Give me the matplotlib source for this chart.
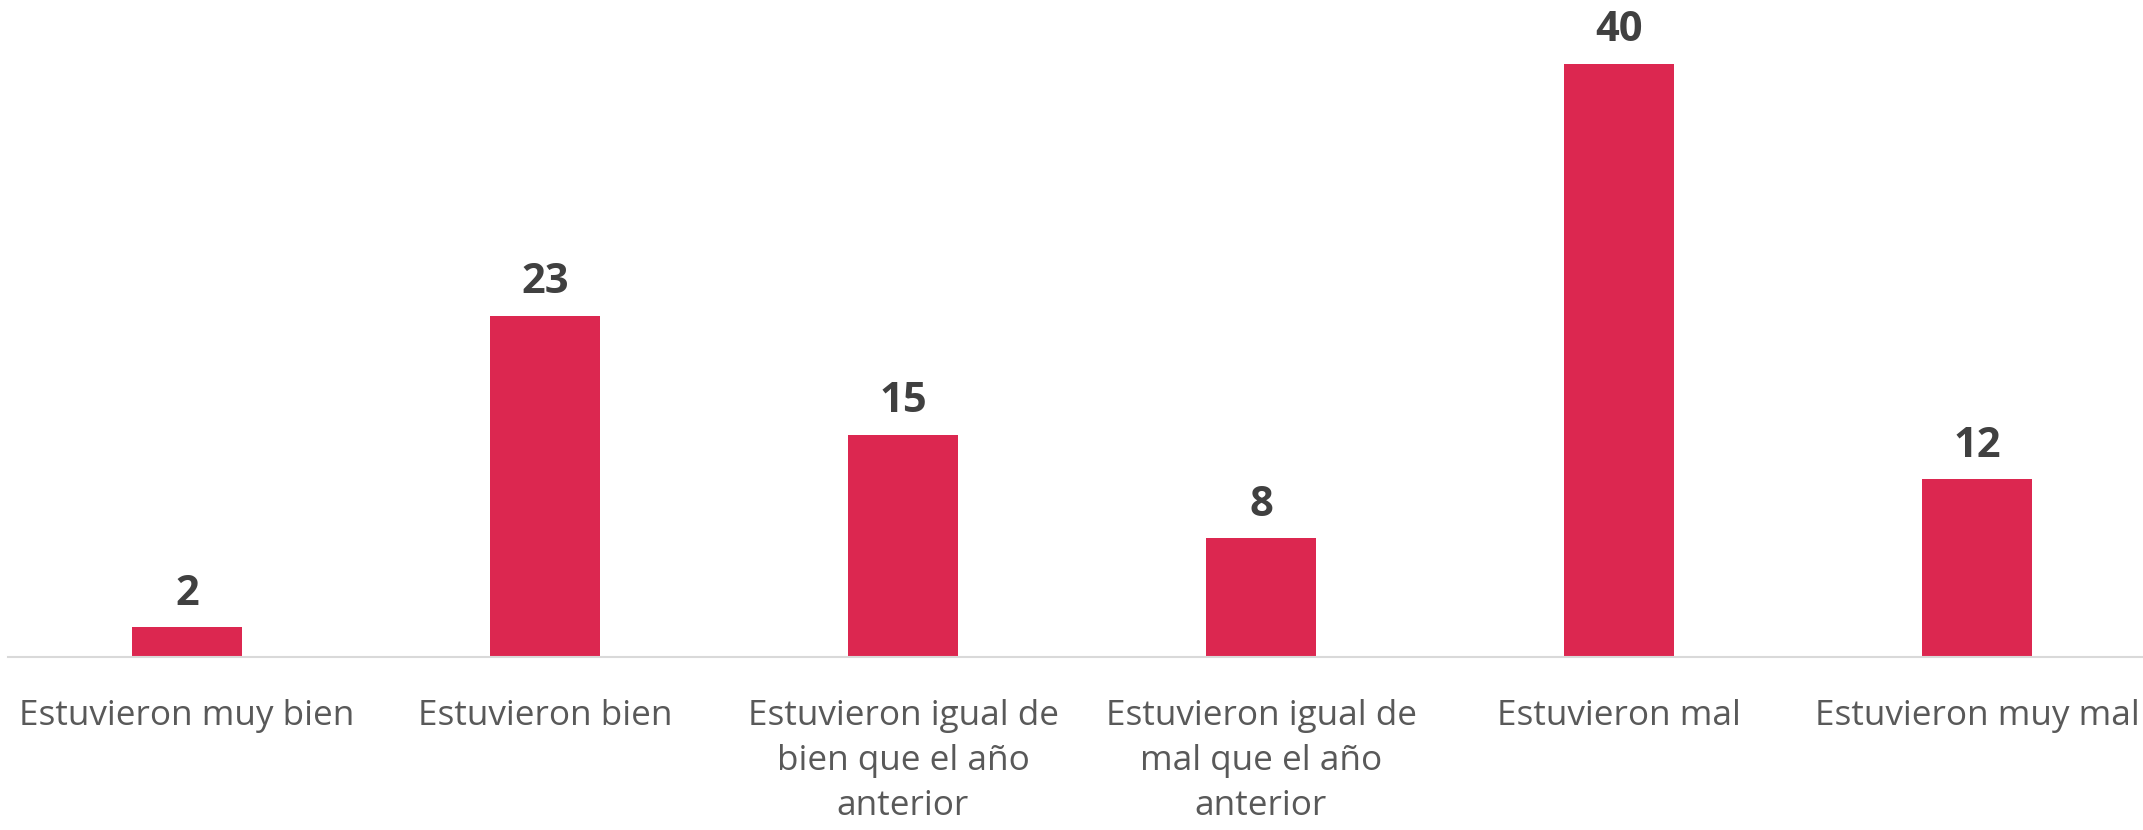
import matplotlib
matplotlib.use("Agg")
import matplotlib.pyplot as plt

categories = [
    "Estuvieron muy bien",
    "Estuvieron bien",
    "Estuvieron igual de\nbien que el año\nanterior",
    "Estuvieron igual de\nmal que el año\nanterior",
    "Estuvieron mal",
    "Estuvieron muy mal",
]
values = [2, 23, 15, 8, 40, 12]

plt.rcParams["font.family"] = ["Open Sans", "DejaVu Sans"]

fig = plt.figure(figsize=(21.43, 8.3), dpi=100)
ax = fig.add_axes([8 / 2143, 0.2084, 2148 / 2143, 0.7916])

x = range(len(categories))
bars = ax.bar(x, values, width=0.31, color="#DC2750")

for b, v in zip(bars, values):
    ax.annotate(str(v), (b.get_x() + b.get_width() / 2, v), xytext=(0, 9),
                textcoords="offset points", ha="center", va="bottom",
                fontsize=30, fontweight="bold", color="#404040")

ax.set_xlim(-0.5, len(categories) - 0.5)
ax.set_ylim(0, 44.3)
ax.set_xticks(list(x))
ax.set_xticklabels(categories, fontsize=25.3, color="#595959", linespacing=1.42)
ax.tick_params(axis="x", length=0, pad=30)
ax.set_yticks([])

for s in ["top", "left", "right"]:
    ax.spines[s].set_visible(False)
ax.spines["bottom"].set_color("#D9D9D9")
ax.spines["bottom"].set_linewidth(1.5)

fig.savefig("out.png", dpi=100)
